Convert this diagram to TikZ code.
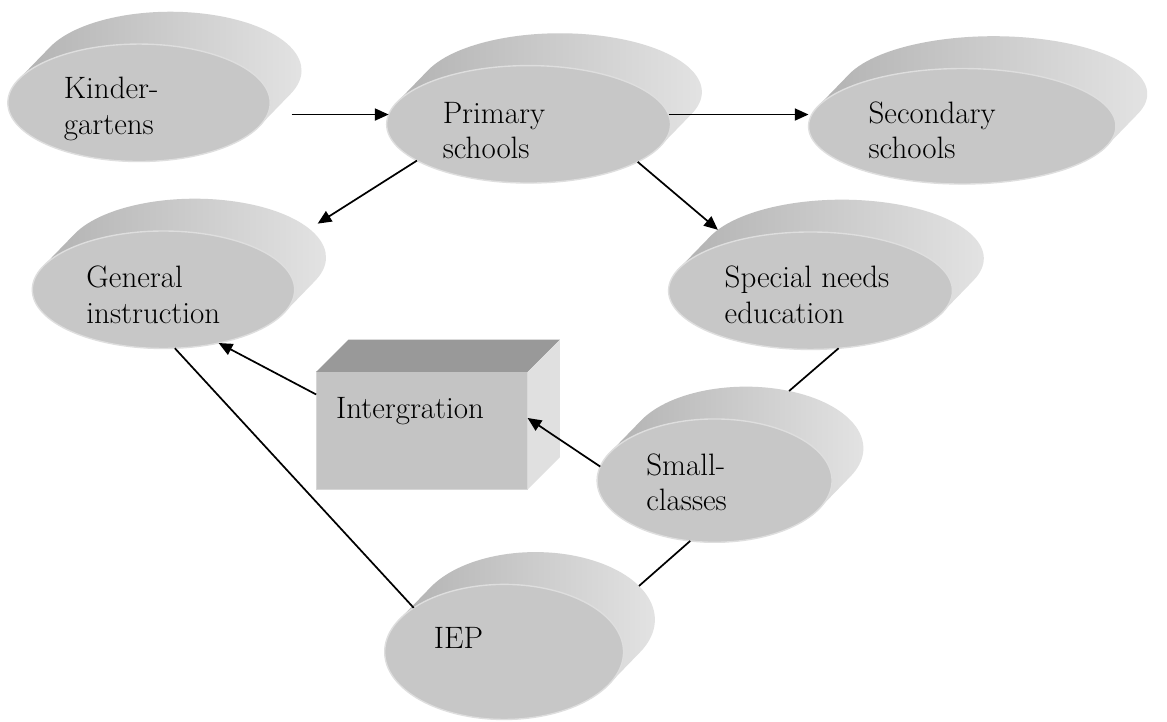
\documentclass[tikz,border=0pt]{standalone}
\usepackage{tikz}
\usetikzlibrary{calc,arrows.meta,shapes.geometric}

\tikzset{
  drumtop/.style={ellipse, fill=black!22, draw=black!13, line width=0.8pt, inner sep=0pt, outer sep=0pt},
  drumback/.style={ellipse, inner sep=0pt, outer sep=0pt},
  drumside/.style={left color=black!30, middle color=black!42, right color=black!10},
  drumtext/.style={anchor=base west, align=left, inner sep=0pt, font=\fontsize{18}{20.5}\selectfont},
  boxfront/.style={rectangle, fill=black!23, draw=black!16, line width=0.6pt, inner sep=0pt, outer sep=0pt},
  arr/.style={line width=1pt, -{Triangle[length=8pt,width=7pt]}},
  con/.style={line width=1pt},
}

% #1 name, #2 centre, #3 #4 radii, #5 text shift, #6 text
\newcommand{\pandisc}[6]{%
  \pgfmathsetmacro{\tang}{atan(-#4*0.64/(#3*0.66))}
  \shade[drumside] ($(#2)+(\tang:#3 and #4)$) -- ++(0.64,0.66)
    arc[start angle=\tang, end angle=\tang+180, x radius=#3, y radius=#4]
    -- ($(#2)+(\tang+180:#3 and #4)$) -- cycle;
  \node[drumback, minimum width=#3*2cm, minimum height=#4*2cm] (#1-b) at ($(#2)+(0.64,0.66)$) {};
  \node[drumtop, minimum width=#3*2cm, minimum height=#4*2cm] (#1) at (#2) {};
  \node[drumtext] (#1-t) at ([shift={(#5)}]#1.center) {#6};
}

\begin{document}
\begin{tikzpicture}
    \fill[white] (0,0) rectangle (23.34,14.74);

    \pandisc{kind}{2.84,12.64}{2.68}{1.20}{-1.54,-0.64}{Kinder-\\gartens}
    \pandisc{prim}{10.80,12.20}{2.90}{1.20}{-1.76,-0.70}{Primary\\schools}
    \pandisc{sec}{19.66,12.16}{3.14}{1.18}{-1.92,-0.66}{Secondary\\schools}
    \pandisc{gen}{3.34,8.82}{2.68}{1.20}{-1.58,-0.68}{General\\instruction}
    \pandisc{spec}{16.56,8.80}{2.90}{1.20}{-1.76,-0.66}{Special needs\\education}
    \pandisc{small}{14.60,4.92}{2.40}{1.26}{-1.40,-0.62}{Small-\\classes}
    \pandisc{iep}{10.30,1.42}{2.44}{1.38}{-1.44,0.06}{IEP}

    % the box
    \node[boxfront, minimum width=4.32cm, minimum height=2.4cm] (integ) at (8.62,5.94) {};
    \fill[black!40] (integ.north west) -- ++(0.66,0.66) -- ($(integ.north east)+(0.66,0.66)$) -- (integ.north east) -- cycle;
    \fill[black!12] (integ.north east) -- ++(0.66,0.66) -- ($(integ.south east)+(0.66,0.66)$) -- (integ.south east) -- cycle;
    \node[drumtext] (integ-t) at ([shift={(0.40,-0.96)}]integ.north west) {Intergration};

    \draw[arr] ([xshift=0.44cm]kind.east |- prim.176) -- (prim.176);
    \draw[arr] (prim.4) -- (prim.4 -| sec.west);
    \draw[arr, shorten >=0.2cm] (prim.198) -- (gen-b.14);
    \draw[arr] (prim.-19) -- (spec-b.167);
    \draw[con] (spec.-64) -- (small-b.53);
    \draw[arr] (small.173) -- ([yshift=0.26cm]integ.east);
    \draw[arr] ([yshift=-0.46cm]integ.north west) -- (gen.-44);
    \draw[con] (gen.-79) -- (iep.154);
    \draw[con] (iep-b.18) -- (small.-112);
\end{tikzpicture}
\end{document}
